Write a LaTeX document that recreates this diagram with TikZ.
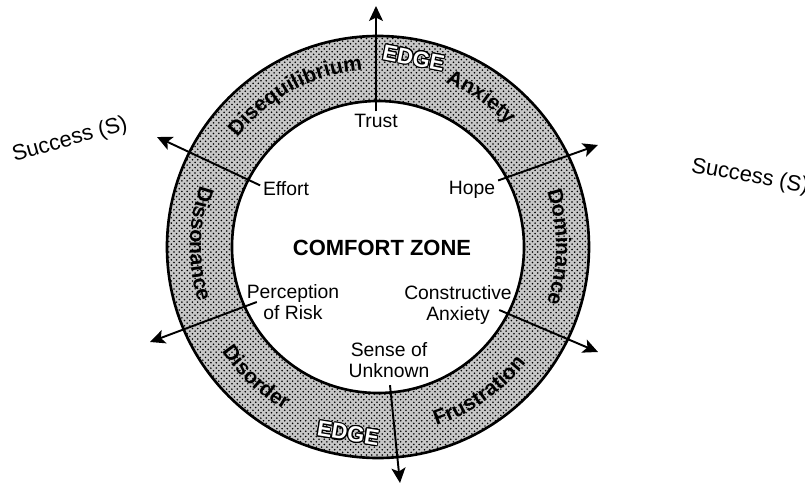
\documentclass[tikz,border=0pt]{standalone}
\usepackage{fontspec}
\setmainfont{Liberation Sans}
\usepackage{contour}
\usetikzlibrary{arrows.meta,positioning,calc,patterns,decorations.text}
\contourlength{0.6pt}
\newcommand{\ringfont}{\fontsize{12}{14}\selectfont\bfseries}
\tikzset{
  band/.style={pattern=crosshatch dots, pattern color=black, even odd rule},
  bandtone/.style={fill=black!22, even odd rule},
  rim/.style={draw=black, line width=1.5pt},
  innerlbl/.style={font=\fontsize{11}{11.5}\selectfont, align=center, inner sep=1.5pt},
  zone/.style={font=\fontsize{12.5}{14}\selectfont\bfseries, inner sep=1pt},
  success/.style={font=\fontsize{12.5}{14}\selectfont, inner sep=1pt},
  edgetext/.style={font=\fontsize{12.5}{14}\selectfont\bfseries, text=white, inner sep=1pt},
  ringtext/.style={decorate, decoration={text along path, text={|\ringfont|#1},
                   text align=center}},
  arrow/.style={-{Stealth[length=3mm, width=2.8mm, inset=0.7mm]}, line width=1.1pt},
}

\begin{document}
\begin{tikzpicture}[x=0.2mm, y=0.2mm]
\useasboundingbox (-378,-237) rectangle (427,247);

% ---------------- edge ring ----------------
\fill[bandtone] (0,0) circle (211) (0,0) circle (146);
\fill[band] (0,0) circle (211) (0,0) circle (146);

% ---------------- comfort zone ----------------
\node[zone] (zone) at (4,-1) {COMFORT ZONE};
\node[innerlbl] (trust) at (-2,126) {Trust};
\node[innerlbl] (effort) at (-92,58) {Effort};
\node[innerlbl] (hope) at (94,57) {Hope};
\node[innerlbl] (risk) at (-85,-55) {Perception\\of Risk};
\node[innerlbl] (constr) at (80,-58) {Constructive\\Anxiety};
\node[innerlbl] (unknown) at (11,-113) {Sense of\\Unknown};

% free ends of the arrows, just outside the ring
\coordinate (tipT) at (-2,241);
\coordinate (tipE) at (-221,110);
\coordinate (tipH) at (220,102);
\coordinate (tipC) at (220,-105);
\coordinate (tipP) at (-228,-95);
\coordinate (tipU) at (22,-236);

\draw[rim] (0,0) circle (211);
\draw[rim] (0,0) circle (146);

\draw[arrow] (trust.north) -- (tipT);
\draw[arrow] (effort.172) -- (tipE);
\draw[arrow] (hope.20) -- (tipH);
\draw[arrow] ([xshift=-3.1mm, yshift=-1mm]constr.east) -- (tipC);
\draw[arrow] ([xshift=2.6mm]risk.west) -- (tipP);
\draw[arrow] ([xshift=0.2mm, yshift=-1mm]unknown.south) -- (tipU);

% ring words: upper ones run clockwise, lower ones counter-clockwise
\path[ringtext=Disequilibrium] (168.5:178) arc[start angle=168.5, end angle=68.5, radius=178];
\path[ringtext=Anxiety] (95.5:178) arc[start angle=95.5, end angle=15.5, radius=178];
\path[ringtext=Dominance] (50:178) arc[start angle=50, end angle=-50, radius=178];
\path[ringtext=Dissonance] (129:188) arc[start angle=129, end angle=229, radius=188];
\path[ringtext=Disorder] (177:188) arc[start angle=177, end angle=277, radius=188];
\path[ringtext=Frustration] (255:188) arc[start angle=255, end angle=355, radius=188];

\node[edgetext, rotate=-11] (edgeT) at (79.3:192) {\contour{black}{EDGE}};
\node[edgetext, rotate=-9.1] (edgeB) at (260.9:189) {\contour{black}{EDGE}};

% ---------------- outcomes ----------------
\node[success, rotate=16] (succL) at (-308,107) {Success (S)};
\node[success, rotate=-10] (succR) at (372,70) {Success (S)};
\end{tikzpicture}
\end{document}
